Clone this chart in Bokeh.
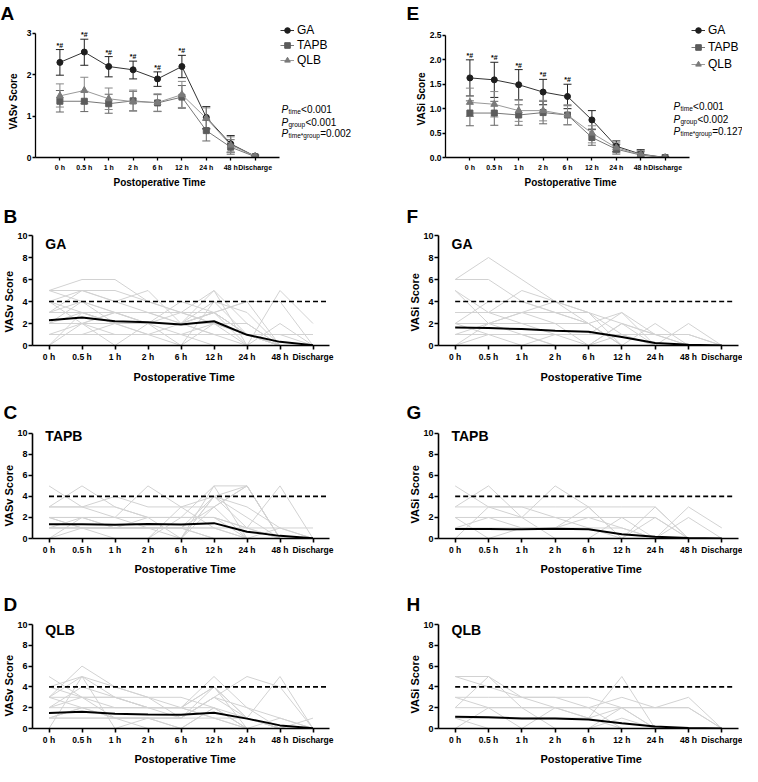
from bokeh.plotting import figure
from bokeh.models import (ColumnDataSource, Whisker, TeeHead, Label, LabelSet, Legend,
                          LegendItem, FixedTicker, PrintfTickFormatter, Range1d, Title)
from bokeh.layouts import row, column
from bokeh.embed import file_html
from bokeh.resources import INLINE
from bokeh.core.properties import value

FONT = "Liberation Sans"

# ---------------- data ----------------
times = ["0 h", "0.5 h", "1 h", "2 h", "6 h", "12 h", "24 h", "48 h", "Discharge"]
groups = ["GA", "TAPB", "QLB"]
threshold = 4

# Panel A: VASv mean with error bars
vasv_ga_mean = [2.30, 2.55, 2.20, 2.12, 1.90, 2.20, 0.97, 0.33, 0.03]
vasv_ga_upper = [2.61, 2.86, 2.44, 2.33, 2.07, 2.47, 1.23, 0.53, 0.06]
vasv_ga_lower = [1.99, 2.23, 1.95, 1.90, 1.72, 1.93, 0.70, 0.13, 0.00]
vasv_tapb_mean = [1.36, 1.36, 1.30, 1.37, 1.32, 1.46, 0.65, 0.25, 0.02]
vasv_tapb_upper = [1.62, 1.60, 1.53, 1.60, 1.52, 1.74, 0.90, 0.43, 0.05]
vasv_tapb_lower = [1.10, 1.11, 1.07, 1.13, 1.11, 1.19, 0.40, 0.08, 0.00]
vasv_qlb_mean = [1.49, 1.62, 1.42, 1.35, 1.33, 1.52, 0.95, 0.30, 0.03]
vasv_qlb_upper = [1.78, 1.94, 1.68, 1.63, 1.54, 1.84, 1.20, 0.50, 0.06]
vasv_qlb_lower = [1.22, 1.30, 1.16, 1.12, 1.12, 1.21, 0.68, 0.12, 0.00]
vasv_star_count = 6
vasv_pvalues = [("time", "<0.001"), ("group", "<0.001"), ("time*group", "=0.002")]

# Panel E: VASi mean with error bars
vasi_ga_mean = [1.63, 1.59, 1.49, 1.34, 1.25, 0.77, 0.23, 0.07, 0.00]
vasi_ga_upper = [2.00, 1.95, 1.80, 1.60, 1.50, 0.96, 0.34, 0.16, 0.02]
vasi_ga_lower = [1.26, 1.23, 1.18, 1.08, 1.00, 0.58, 0.12, 0.00, 0.00]
vasi_tapb_mean = [0.91, 0.91, 0.87, 0.92, 0.87, 0.41, 0.17, 0.05, 0.00]
vasi_tapb_upper = [1.16, 1.15, 1.08, 1.15, 1.06, 0.57, 0.27, 0.12, 0.01]
vasi_tapb_lower = [0.65, 0.66, 0.66, 0.69, 0.67, 0.25, 0.07, 0.00, 0.00]
vasi_qlb_mean = [1.13, 1.09, 0.96, 0.96, 0.87, 0.50, 0.20, 0.06, 0.00]
vasi_qlb_upper = [1.42, 1.35, 1.18, 1.17, 1.08, 0.65, 0.30, 0.14, 0.01]
vasi_qlb_lower = [0.84, 0.83, 0.74, 0.75, 0.67, 0.30, 0.10, 0.00, 0.00]
vasi_star_count = 5
vasi_pvalues = [("time", "<0.001"), ("group", "<0.002"), ("time*group", "=0.127")]

# Individual patient trajectories
vasv_ga_patients = [
    [5, 5, 4, 3, 2, 3, 1, 0, 0], [5, 6, 6, 4, 3, 2, 1, 0, 0], [4, 5, 5, 4, 3, 5, 2, 0, 0],
    [3, 5, 4, 5, 2, 3, 4, 0, 0], [3, 3, 3, 3, 3, 3, 0, 5, 2], [2, 2, 2, 2, 2, 2, 1, 0, 0],
    [2, 3, 2, 2, 1, 2, 0, 2, 0], [4, 2, 3, 2, 2, 4, 3, 0, 0], [0, 2, 0, 2, 0, 4, 1, 0, 0],
    [1, 1, 1, 1, 1, 1, 1, 1, 1], [3, 4, 2, 2, 2, 5, 0, 0, 0], [2, 2, 1, 1, 0, 2, 1, 1, 0],
    [0, 0, 0, 0, 0, 0, 0, 0, 0], [1, 2, 3, 2, 3, 2, 2, 0, 0], [3, 3, 2, 2, 2, 1, 0, 0, 0],
    [2, 4, 3, 3, 2, 3, 1, 0, 0], [5, 4, 3, 2, 2, 1, 1, 0, 0], [0, 3, 2, 2, 4, 3, 4, 4, 0],
    [1, 1, 2, 1, 1, 0, 0, 0, 0], [4, 3, 2, 1, 2, 3, 1, 0, 0],
]
vasv_tapb_patients = [
    [5, 3, 2, 1, 1, 3, 5, 0, 0], [3, 5, 3, 2, 2, 5, 0, 0, 0], [2, 2, 2, 5, 3, 4, 5, 0, 0],
    [1, 1, 1, 1, 1, 1, 1, 1, 1], [0, 0, 0, 0, 0, 5, 5, 0, 0], [3, 3, 3, 2, 2, 2, 1, 5, 0],
    [1, 2, 1, 1, 1, 0, 0, 0, 0], [0, 1, 1, 2, 0, 4, 3, 1, 0], [2, 2, 2, 2, 2, 2, 0, 0, 0],
    [1, 1, 0, 0, 3, 3, 0, 0, 0], [0, 0, 0, 0, 0, 4, 2, 0, 0], [3, 3, 4, 3, 3, 1, 0, 0, 0],
    [2, 1, 1, 1, 0, 3, 5, 0, 0], [1, 1, 1, 1, 1, 1, 0, 1, 0], [0, 0, 0, 0, 2, 2, 1, 0, 0],
    [2, 1, 1, 1, 1, 0, 0, 0, 0], [0, 2, 1, 1, 1, 4, 1, 0, 0],
]
vasv_qlb_patients = [
    [5, 3, 2, 2, 2, 4, 0, 0, 0], [4, 5, 4, 3, 2, 5, 2, 0, 0], [3, 6, 4, 3, 1, 3, 5, 4, 0],
    [3, 5, 3, 2, 2, 4, 1, 5, 0], [2, 3, 3, 2, 1, 1, 0, 0, 1], [2, 2, 2, 2, 2, 2, 1, 0, 0],
    [1, 1, 1, 1, 1, 3, 2, 1, 0], [0, 5, 0, 0, 0, 2, 0, 0, 0], [3, 3, 3, 3, 3, 2, 0, 0, 0],
    [1, 2, 1, 1, 0, 0, 0, 0, 0], [2, 4, 3, 2, 2, 1, 0, 0, 0], [1, 1, 1, 1, 1, 4, 1, 0, 0],
    [0, 0, 0, 1, 1, 3, 1, 0, 0], [3, 2, 1, 1, 0, 0, 0, 0, 0], [4, 3, 1, 0, 0, 2, 0, 1, 0],
    [1, 2, 2, 2, 2, 1, 1, 0, 0],
]
vasi_ga_patients = [
    [6, 8, 6, 4, 3, 0, 0, 0, 0], [6, 6, 4, 3, 2, 0, 2, 0, 0], [5, 2, 3, 4, 2, 3, 1, 0, 0],
    [5, 3, 2, 1, 0, 2, 0, 2, 0], [3, 3, 5, 4, 3, 1, 0, 0, 0], [2, 4, 4, 3, 2, 0, 0, 0, 0],
    [3, 3, 3, 3, 3, 2, 1, 1, 0], [2, 2, 2, 2, 2, 0, 0, 0, 0], [1, 1, 1, 1, 1, 1, 1, 1, 0],
    [0, 1, 1, 0, 0, 1, 0, 0, 0], [0, 0, 0, 0, 0, 0, 0, 0, 0], [1, 2, 3, 2, 0, 2, 1, 0, 0],
    [2, 1, 0, 1, 1, 3, 0, 0, 0], [0, 2, 1, 0, 0, 0, 0, 0, 0],
]
vasi_tapb_patients = [
    [5, 3, 2, 0, 0, 0, 0, 0, 0], [3, 5, 2, 5, 3, 0, 3, 0, 0], [3, 3, 3, 3, 3, 3, 3, 0, 0],
    [2, 2, 2, 2, 2, 2, 2, 0, 0], [2, 0, 1, 1, 2, 1, 0, 3, 1], [1, 2, 1, 1, 3, 0, 2, 0, 0],
    [0, 0, 0, 0, 0, 2, 0, 0, 0], [1, 1, 1, 1, 1, 1, 0, 2, 0], [0, 3, 3, 2, 1, 0, 0, 0, 0],
    [0, 0, 0, 0, 0, 0, 0, 0, 0],
]
vasi_qlb_patients = [
    [5, 5, 3, 2, 1, 5, 0, 0, 0], [5, 4, 3, 3, 2, 0, 0, 0, 0], [3, 2, 2, 2, 2, 3, 2, 3, 0],
    [3, 3, 3, 3, 3, 2, 0, 0, 0], [2, 5, 2, 0, 0, 2, 2, 2, 0], [2, 2, 2, 2, 2, 2, 2, 2, 0],
    [1, 1, 1, 1, 1, 2, 0, 0, 0], [0, 2, 0, 2, 1, 0, 0, 0, 0], [1, 0, 0, 0, 0, 1, 0, 0, 0],
    [0, 0, 0, 0, 0, 0, 0, 0, 0],
]

idx = list(range(len(times)))
COL_W = 371

# approximate Arial/Liberation Sans advance widths (per em)
CW = {"P": .667, "t": .278, "i": .222, "m": .833, "e": .556, "g": .556, "r": .333,
      "o": .556, "u": .556, "p": .556, "*": .389, "<": .584, "=": .584, ".": .278}


def text_w(s, size):
    return sum(CW.get(c, .556) for c in s) * size


def geom(height, left, right, top, bottom, ax_px, ax_x, ax_ybot, ax_ytop, ax_y):
    """Frame from (left, top) to (right, height-bottom) in figure pixels; the axis
    data ends ax_x sit at pixels ax_px, ax_y at pixel rows ax_ybot/ax_ytop."""
    fw = right - left
    fh = height - top - bottom
    (px0, px1), (dx0, dx1) = ax_px, ax_x
    sx = (dx1 - dx0) / (px1 - px0)
    x0 = dx0 + (left - px0) * sx
    x1 = dx0 + (right - px0) * sx
    (dy0, dy1) = ax_y
    sy = (dy1 - dy0) / (ax_ybot - ax_ytop)
    y0 = dy0 - ((height - bottom) - ax_ybot) * sy
    y1 = dy0 + (ax_ybot - top) * sy
    return dict(width=COL_W, height=height, left=left, right=right, top=top,
                bottom=bottom, fw=fw, fh=fh, xr=(x0, x1), yr=(y0, y1))


def to_data(g, fx, fy):
    x0, x1 = g["xr"]
    y0, y1 = g["yr"]
    return (x0 + (fx - g["left"]) / g["fw"] * (x1 - x0),
            y1 - (fy - g["top"]) / g["fh"] * (y1 - y0))


def base_fig(g, letter, letter_x, letter_standoff):
    p = figure(width=g["width"], height=g["height"],
               x_range=Range1d(*g["xr"]), y_range=Range1d(*g["yr"]),
               min_border_left=g["left"], min_border_top=g["top"],
               min_border_right=g["width"] - g["right"], min_border_bottom=g["bottom"],
               toolbar_location=None, tools="", output_backend="svg")
    p.outline_line_color = None
    p.xgrid.visible = False
    p.ygrid.visible = False
    p.background_fill_color = "white"
    p.border_fill_color = "white"
    p.title.text = letter
    p.title.text_font = FONT
    p.title.text_font_size = "19px"
    p.title.text_font_style = "bold"
    p.title.text_color = "black"
    p.title.align = "left"
    p.title.offset = letter_x - g["left"]
    p.title.standoff = letter_standoff
    return p


def add_axis_titles(p, g, ylabel, xlabel_size, ylabel_px, xlabel_px):
    """Axis titles placed as side titles so that their position along the axis
    matches the reference (label start measured from the frame edge)."""
    y_off, y_stand = ylabel_px
    x_left, x_stand = xlabel_px
    p.add_layout(Title(text=ylabel, align="left", offset=y_off, standoff=y_stand,
                       text_font=FONT, text_font_size=xlabel_size,
                       text_font_style="bold", text_color="black"), "left")
    p.add_layout(Title(text="Postoperative Time", align="left",
                       offset=x_left - g["left"], standoff=x_stand,
                       text_font=FONT, text_font_size=xlabel_size,
                       text_font_style="bold", text_color="black"), "below")


def style_axes(p, xtick_size, ytick_size, x_stand, y_stand, tick_len, line_w, xb, yb):
    for ax in (p.xaxis[0], p.yaxis[0]):
        ax.axis_line_width = line_w
        ax.axis_line_color = "black"
        ax.major_tick_line_width = line_w
        ax.major_tick_line_color = "black"
        ax.major_tick_in = 0
        ax.major_tick_out = tick_len
        ax.minor_tick_line_color = None
        ax.major_label_text_font = FONT
        ax.major_label_text_font_style = "bold"
        ax.major_label_text_color = "black"
    xa, ya = p.xaxis[0], p.yaxis[0]
    xa.bounds = xb
    ya.bounds = yb
    xa.ticker = FixedTicker(ticks=idx)
    xa.major_label_overrides = {i: t for i, t in enumerate(times)}
    xa.major_label_text_font_size = xtick_size
    xa.major_label_standoff = x_stand
    ya.major_label_text_font_size = ytick_size
    ya.major_label_standoff = y_stand


def summary_panel(g, ylabel, y_ticks, y_fmt, series, star_count, pvals,
                  legend_loc, legend_spacing, p_px, letter, letter_x, ylabel_px, xlabel_px):
    p = base_fig(g, letter, letter_x, 0)
    items = []
    for name, mean, upper, lower, marker, msize, fill, lcol, ecol in series:
        src = ColumnDataSource(dict(x=idx, y=mean, upper=upper, lower=lower))
        p.add_layout(Whisker(source=src, base="x", upper="upper", lower="lower",
                             line_color=ecol, line_width=1,
                             upper_head=TeeHead(size=8, line_color=ecol, line_width=1),
                             lower_head=TeeHead(size=8, line_color=ecol, line_width=1)))
        lr = p.line("x", "y", source=src, line_color=lcol, line_width=1)
        sr = p.scatter("x", "y", source=src, marker=marker, size=msize,
                       fill_color=fill, line_color=fill)
        items.append(LegendItem(label=name, renderers=[lr, sr]))
    ga_upper = series[0][2]
    star_src = ColumnDataSource(dict(x=idx[:star_count], y=ga_upper[:star_count],
                                     t=["*#"] * star_count))
    p.add_layout(LabelSet(source=star_src, x="x", y="y", text="t", y_offset=1,
                          text_font=value(FONT), text_font_size="7px",
                          text_font_style="bold", text_align="center",
                          text_baseline="bottom", text_color="black"))
    leg = Legend(items=items, location=legend_loc, padding=0, margin=0,
                 spacing=legend_spacing, glyph_width=14, glyph_height=14,
                 label_height=14, label_standoff=3, border_line_color=None,
                 background_fill_alpha=0, label_text_font=FONT,
                 label_text_font_size="12px", label_text_color="black")
    p.add_layout(leg)
    fx0, fys = p_px
    for (sub, rest), fy in zip(pvals, fys):
        x, y = to_data(g, fx0, fy + 3.5)
        p.add_layout(Label(x=x, y=y, text="P", text_font=FONT, text_font_size="10px",
                           text_font_style="italic", text_baseline="alphabetic",
                           text_color="black"))
        fx1 = fx0 + text_w("P", 10) + 0.3
        x, y = to_data(g, fx1, fy + 6)
        p.add_layout(Label(x=x, y=y, text=sub, text_font=FONT, text_font_size="6.5px",
                           text_baseline="alphabetic", text_color="black"))
        fx2 = fx1 + text_w(sub, 6.5) + 0.3
        x, y = to_data(g, fx2, fy + 3.5)
        p.add_layout(Label(x=x, y=y, text=rest, text_font=FONT, text_font_size="10px",
                           text_baseline="alphabetic", text_color="black"))
    style_axes(p, "7px", "8.5px", 3, 1, 3, 1.3,
               (idx[0] - 1, idx[-1] + 1), (y_ticks[0], y_ticks[-1]))
    p.yaxis[0].ticker = FixedTicker(ticks=y_ticks)
    p.yaxis[0].formatter = PrintfTickFormatter(format=y_fmt)
    add_axis_titles(p, g, ylabel, "10px", ylabel_px, xlabel_px)
    return p


def spaghetti_panel(g, patients, mean, ylabel, name, name_px, letter, letter_x,
                    letter_standoff, ylabel_px, xlabel_px):
    p = base_fig(g, letter, letter_x, letter_standoff)
    p.multi_line(xs=[idx for _ in patients], ys=patients, line_color="#d2d2d2",
                 line_width=1)
    p.segment(x0=[idx[0]], y0=[threshold], x1=[idx[-1] + 0.4], y1=[threshold],
              line_color="black", line_width=1.6, line_dash="5 3")
    p.line(idx, mean, line_color="black", line_width=2)
    x, y = to_data(g, *name_px)
    p.add_layout(Label(x=x, y=y, text=name, text_font=FONT, text_font_size="14px",
                       text_font_style="bold", text_align="left", text_baseline="middle",
                       text_color="black"))
    style_axes(p, "8.5px", "9px", 2, 1, 4, 1.6,
               (idx[0] - 0.5, idx[-1] + 0.5), (0, 10))
    p.yaxis[0].ticker = FixedTicker(ticks=[0, 2, 4, 6, 8, 10])
    add_axis_titles(p, g, ylabel, "11px", ylabel_px, xlabel_px)
    return p


def series_list(ga, tapb, qlb):
    return [
        ("GA", ga[0], ga[1], ga[2], "circle", 6, "#1e1e1e", "#333333", "#222222"),
        ("TAPB", tapb[0], tapb[1], tapb[2], "square", 6, "#5c5c5c", "#777777", "#666666"),
        ("QLB", qlb[0], qlb[1], qlb[2], "triangle", 7, "#7a7a7a", "#999999", "#888888"),
    ]


# Row 1 (figure pixels)
gA = geom(190, 35, COL_W, 22, 33, (35, 279), (-1, 9), 157, 32, (0, 3))
pA = summary_panel(gA, "VASv Score", [0, 1, 2, 3], "%d",
                   series_list((vasv_ga_mean, vasv_ga_upper, vasv_ga_lower),
                               (vasv_tapb_mean, vasv_tapb_upper, vasv_tapb_lower),
                               (vasv_qlb_mean, vasv_qlb_upper, vasv_qlb_lower)),
                   vasv_star_count, vasv_pvalues, (245, 90), 1,
                   (281, [105, 118, 129]), "A", 0, (28, 10), (113, 2))
gE = geom(190, 74, COL_W, 22, 33, (74, 318), (-1, 9), 157, 34, (0, 2.5))
pE = summary_panel(gE, "VASi Score", [0, 0.5, 1, 1.5, 2, 2.5], "%.1f",
                   series_list((vasi_ga_mean, vasi_ga_upper, vasi_ga_lower),
                               (vasi_tapb_mean, vasi_tapb_upper, vasi_tapb_lower),
                               (vasi_qlb_mean, vasi_qlb_upper, vasi_qlb_lower)),
                   vasi_star_count, vasi_pvalues, (246, 86), 3,
                   (302, [102, 115, 127]), "E", 35, (32, 0), (153, 2))

# Row 2
gB = geom(200, 29, 329, 45, 45, (29, 329), (-0.5, 8.5), 155, 45, (0, 10))
pB = spaghetti_panel(gB, vasv_ga_patients, vasv_ga_mean, "VASv Score", "GA", (42, 53),
                     "B", 0, 17, (13, 0), (130, 8))
gF = geom(200, 67, 367, 45, 45, (67, 367), (-0.5, 8.5), 155, 45, (0, 10))
pF = spaghetti_panel(gF, vasi_ga_patients, vasi_ga_mean, "VASi Score", "GA", (80, 53),
                     "F", 35, 17, (14, 0), (169, 8))
# Row 3 (frame reaches a little above 10 so the group name is not cut)
gC = geom(188, 29, 329, 38, 35, (29, 329), (-0.5, 8.5), 153, 43, (0, 10))
pC = spaghetti_panel(gC, vasv_tapb_patients, vasv_tapb_mean, "VASv Score", "TAPB",
                     (42, 46), "C", 0, 11, (12, 0), (131, 7))
gG = geom(188, 67, 367, 38, 35, (67, 367), (-0.5, 8.5), 153, 43, (0, 10))
pG = spaghetti_panel(gG, vasi_tapb_patients, vasi_tapb_mean, "VASi Score", "TAPB",
                     (80, 46), "G", 35, 11, (15, 0), (169, 7))
# Row 4
gD = geom(190, 29, 329, 46, 35, (29, 329), (-0.5, 8.5), 155, 46, (0, 10))
pD = spaghetti_panel(gD, vasv_qlb_patients, vasv_qlb_mean, "VASv Score", "QLB",
                     (42, 52), "D", 0, 20, (12, 0), (131, 7))
gH = geom(190, 67, 367, 46, 35, (67, 367), (-0.5, 8.5), 155, 46, (0, 10))
pH = spaghetti_panel(gH, vasi_qlb_patients, vasi_qlb_mean, "VASi Score", "QLB",
                     (80, 52), "H", 35, 20, (15, 0), (169, 7))

layout = column(row(pA, pE), row(pB, pF), row(pC, pG), row(pD, pH))
open("out.html", "w").write(file_html(layout, INLINE))
